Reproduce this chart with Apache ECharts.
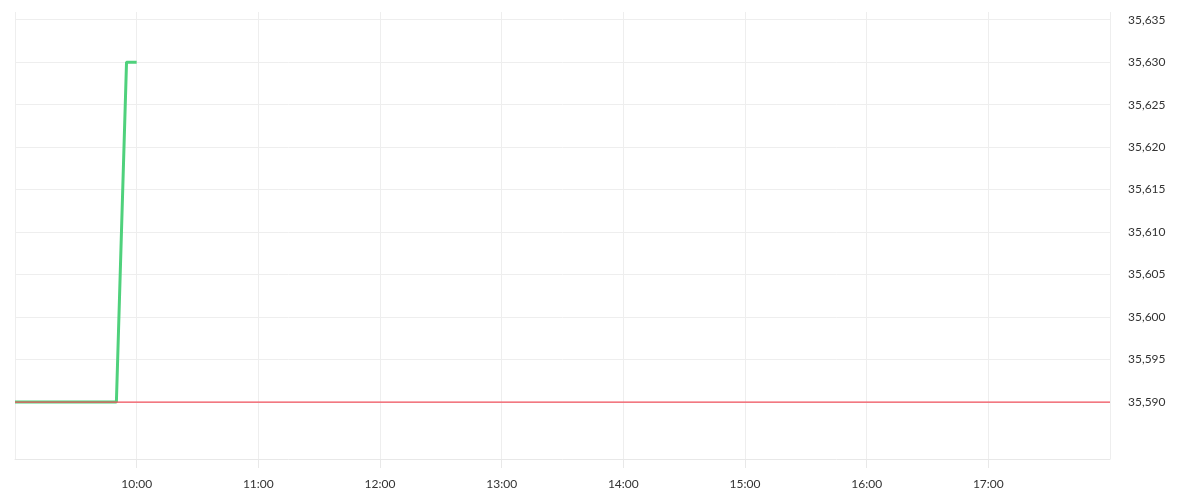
<!DOCTYPE html>
<html><head><meta charset="utf-8">
<script src="https://cdn.jsdelivr.net/npm/echarts@6/dist/echarts.min.js"></script>
<style>html,body{margin:0;padding:0;background:#fff}#c{width:1200px;height:500px}</style>
</head><body><div id="c"></div>
<script>
var priceTimes = ['09:00','09:05','09:10','09:15','09:20','09:25','09:30','09:35','09:40','09:45','09:50','09:55','10:00'];
var priceValues = [35590,35590,35590,35590,35590,35590,35590,35590,35590,35590,35590,35630,35630];
var refTimes = ['09:00','18:00'];
var refValues = [35590,35590];
var yTicks = [35590,35595,35600,35605,35610,35615,35620,35625,35630,35635];
var xStart = '09:00', xEnd = '18:00';
var yMin = 35583.3, yMax = 35635.9;

function toMin(t){var p=t.split(':');return (+p[0])*60+(+p[1]);}
function fmtMin(v){var h=Math.floor(v/60),m=v%60;return (h<10?'0':'')+h+':'+(m<10?'0':'')+m;}
function pairs(ts,vs){return ts.map(function(t,i){return [toMin(t),vs[i]];});}

var chart = echarts.init(document.getElementById('c'));
chart.setOption({
  animation:false,
  grid:{left:15,right:90,top:12,bottom:41,containLabel:false},
  xAxis:{type:'value',min:toMin(xStart),max:toMin(xEnd),interval:60,
    axisLine:{show:true,onZero:false,lineStyle:{color:'#e8e8e8',width:1}},
    axisTick:{show:true,inside:false,length:9,lineStyle:{color:'#e8e8e8',width:1}},
    splitLine:{show:true,lineStyle:{color:'#eeeeee',width:1}},
    axisLabel:{showMinLabel:false,showMaxLabel:false,color:'#333',fontSize:12,fontFamily:'Lato',margin:19,
      formatter:function(v){return fmtMin(v);}}
  },
  yAxis:{type:'value',position:'right',min:yMin,max:yMax,scale:true,
    axisLine:{show:false},
    axisTick:{show:false,customValues:yTicks},
    splitLine:{show:true,lineStyle:{color:'#eeeeee',width:1}},
    axisLabel:{customValues:yTicks,color:'#333',fontSize:12,fontFamily:'Lato',margin:18,
      formatter:function(v){return v.toLocaleString('en-US');}}
  },
  series:[
    {type:'line',data:pairs(refTimes,refValues),symbol:'none',lineStyle:{color:'#f2505c',width:1.2},z:3},
    {type:'line',data:pairs(priceTimes,priceValues),symbol:'none',lineStyle:{color:'#4fd17c',width:3},z:2}
  ]
});
</script></body></html>
